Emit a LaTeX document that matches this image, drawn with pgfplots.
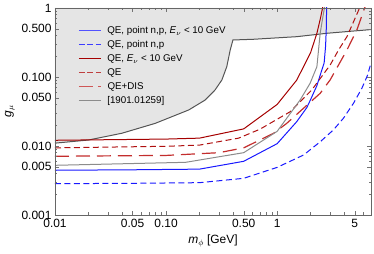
\documentclass[border=0pt]{standalone}
\usepackage{fontspec}
\setmainfont{Liberation Sans}
\usepackage{pgfplots}
\pgfplotsset{compat=1.18}
\definecolor{qeblue}{RGB}{25,25,255}
\definecolor{qered}{RGB}{165,0,0}
\definecolor{qedash}{RGB}{175,15,15}
\definecolor{qedis}{RGB}{195,45,45}
\definecolor{refgray}{RGB}{140,140,140}
\definecolor{bound}{RGB}{85,85,85}
\definecolor{shade}{RGB}{229,229,229}
\newcommand{\legline}[1]{\tikz[baseline=-3bp]\draw[#1] (0bp,0bp) -- (22bp,0bp);\hspace{6bp}}
\begin{document}
\begin{tikzpicture}
\begin{axis}[
  scale only axis, width=316bp, height=207bp,
  xmode=log, ymode=log,
  xmin=0.01, xmax=7, ymin=0.001, ymax=1,
  axis on top,
  xtick={0.01,0.05,0.1,0.5,1,5},
  xticklabels={0.01,0.05,0.10,0.50,1,5},
  ytick={0.001,0.005,0.01,0.05,0.1,0.5,1},
  yticklabels={0.001,0.005,0.010,0.050,0.100,0.500,1},
  minor xtick={0.02,0.03,0.04,0.06,0.07,0.08,0.09,0.2,0.3,0.4,0.6,0.7,0.8,0.9,2,3,4,6,7},
  minor ytick={0.002,0.003,0.004,0.006,0.007,0.008,0.009,0.02,0.03,0.04,0.06,0.07,0.08,0.09,0.2,0.3,0.4,0.6,0.7,0.8,0.9},
  tick align=inside,
  xtick pos=both, ytick pos=both,
  xticklabel pos=left, yticklabel pos=left,
  major tick length=4bp, minor tick length=2.5bp,
  every tick/.style={black!55},
  axis line style={black!60},
  tick label style={font=\fontsize{12}{12}\selectfont},
  xticklabel style={yshift=-1bp},
  xlabel={\textit{m}$_{\phi}$ [GeV]},
  ylabel={\textit{g}$_{\mu}$},
  label style={font=\fontsize{12}{12}\selectfont},
  legend style={at={(rel axis cs:0.07,0.915)}, anchor=north west, draw=none, fill=none,
    font=\fontsize{9.8}{10}\selectfont, inner sep=0pt, row sep=3bp, column sep=0pt,
    nodes={text height=7bp, text depth=2bp, inner sep=1bp}},
  legend cell align=left,
  legend image code/.code={},
]
% excluded region
\addplot[fill=shade, draw=none, forget plot] coordinates {
(0.01,0.0110) (0.02,0.0122) (0.04,0.0153) (0.08,0.0213) (0.16,0.0333) (0.225,0.0464)
(0.276,0.0648) (0.318,0.0905) (0.352,0.141) (0.378,0.246) (0.40,0.344) (0.61,0.352)
(1.5,0.384) (2.8,0.43) (7,0.487) (7,1) (0.01,1)} -- cycle;
\addplot[draw=bound, line width=1bp, forget plot] coordinates {
(0.01,0.0110) (0.02,0.0122) (0.04,0.0153) (0.08,0.0213) (0.16,0.0333) (0.225,0.0464)
(0.276,0.0648) (0.318,0.0905) (0.352,0.141) (0.378,0.246) (0.40,0.344) (0.61,0.352)
(1.5,0.384) (2.8,0.43) (7,0.487)};
% QE, point n,p, E<10 GeV
\addplot[draw=qeblue, line width=1bp] coordinates {
(0.01,0.00445) (0.05,0.00452) (0.2,0.00462) (0.5,0.0060) (1.0,0.0108) (1.5,0.0225)
(1.85,0.036) (2.0,0.047) (2.28,0.075) (2.5,0.12) (2.65,0.16) (2.73,0.28) (2.77,0.5) (2.79,1.05)};
\addlegendentry{\legline{draw=qeblue!75, line width=1bp}QE, point n,p, \textit{E}$_{\nu}$ < 10 GeV}
% QE, point n,p
\addplot[draw=qeblue, line width=1bp, dash pattern=on 6bp off 3.5bp] coordinates {
(0.01,0.00284) (0.05,0.00288) (0.2,0.00294) (0.5,0.0034) (1.0,0.0049) (1.73,0.0074)
(2.44,0.0115) (3.21,0.0171) (3.95,0.0252) (4.87,0.0416) (5.79,0.0686) (6.5,0.105) (7,0.16)};
\addlegendentry{\legline{draw=qeblue!85, line width=1bp, dash pattern=on 6bp off 2.5bp}QE, point n,p}
% QE, E<10 GeV
\addplot[draw=qered, line width=1bp] coordinates {
(0.01,0.0121) (0.1,0.0126) (0.2,0.0130) (0.5,0.0177) (1.0,0.040) (1.5,0.090)
(2.0,0.225) (2.28,0.43) (2.45,0.7) (2.58,1.05)};
\addlegendentry{\legline{draw=qered, line width=1bp}QE, \textit{E}$_{\nu}$ < 10 GeV}
% QE
\addplot[draw=qedash, line width=1bp, dash pattern=on 6bp off 3.5bp] coordinates {
(0.01,0.0094) (0.1,0.0099) (0.2,0.0103) (0.45,0.013) (0.7,0.0175) (1.31,0.0314)
(2.05,0.0648) (3.0,0.149) (3.57,0.246) (4.25,0.384) (5.6,1.05)};
\addlegendentry{\legline{draw=qedash!80, line width=1bp, dash pattern=on 6bp off 2.5bp}QE}
% QE+DIS
\addplot[draw=qedis, line width=1.2bp, dash pattern=on 14bp off 7bp] coordinates {
(0.01,0.0071) (0.1,0.0073) (0.3,0.0080) (0.5,0.0094) (0.93,0.0153) (1.22,0.0213)
(2.44,0.058) (3.0,0.0906) (4.25,0.246) (5.22,0.48) (6.2,1.05)};
\addlegendentry{\legline{draw=qedis!80, line width=1.3bp, dash pattern=on 14bp off 5bp}QE+DIS}
% 1901.01259
\addplot[draw=refgray, line width=1bp] coordinates {
(0.01,0.00525) (0.15,0.0058) (0.5,0.0080) (1.0,0.0163) (1.61,0.0464) (1.98,0.081)
(2.28,0.141) (2.44,0.43) (2.6,0.8) (2.68,1.05)};
\addlegendentry{\legline{draw=refgray, line width=1bp}[1901.01259]}
\end{axis}
\pgfresetboundingbox
\path[use as bounding box] ([xshift=-55bp,yshift=-39bp]current axis.south west) rectangle ([xshift=3bp,yshift=8bp]current axis.north east);
\end{tikzpicture}
\end{document}
